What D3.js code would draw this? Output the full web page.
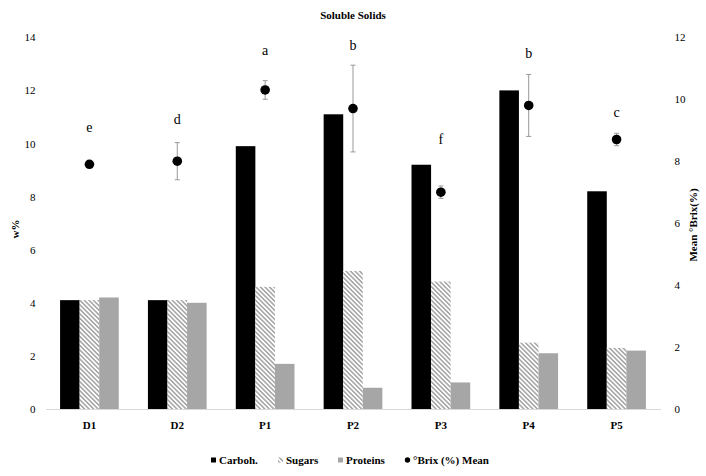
<!DOCTYPE html>
<html>
<head>
<meta charset="utf-8">
<script src="https://cdn.jsdelivr.net/npm/d3@7"></script>
<style>
  html, body { margin: 0; padding: 0; background: #fff; }
  svg { display: block; }
  text { font-family: "Liberation Serif", "Times New Roman", serif; fill: #000; }
</style>
</head>
<body>
<svg id="chart" width="706" height="476"></svg>
<script>
// ---- data ----
const categories = ["D1", "D2", "P1", "P2", "P3", "P4", "P5"];
const seriesNames = ["Carboh.", "Sugars", "Proteins"];
const carboh   = [4.1, 4.1, 9.9, 11.1, 9.2, 12.0, 8.2];
const sugars   = [4.1, 4.1, 4.6, 5.2, 4.8, 2.5, 2.3];
const proteins = [4.2, 4.0, 1.7, 0.8, 1.0, 2.1, 2.2];
const brixMean = [7.9, 8.0, 10.3, 9.7, 7.0, 9.8, 8.7];
const brixErr  = [0.05, 0.6, 0.3, 1.4, 0.2, 1.0, 0.2];
const letters  = ["e", "d", "a", "b", "f", "b", "c"];
const letterAt = [9.1, 9.35, 11.6, 11.75, 8.7, 11.5, 9.6]; // in °Brix units
const leftTicks  = [0, 2, 4, 6, 8, 10, 12, 14];
const rightTicks = [0, 2, 4, 6, 8, 10, 12];

// ---- layout ----
const svg = d3.select("#chart");
const plot = { left: 45.5, right: 660.5, top: 37.3, bottom: 409 };

const x = d3.scaleBand().domain(categories).range([plot.left, plot.right]);
const xs = d3.scaleBand().domain(seriesNames).range([0, x.bandwidth()]).paddingOuter(0.745);
const yL = d3.scaleLinear().domain([0, 14]).range([plot.bottom, plot.top]);
const yR = d3.scaleLinear().domain([0, 12]).range([plot.bottom, plot.top]);

// hatch pattern
const defs = svg.append("defs");
const pat = defs.append("pattern")
  .attr("id", "hatch").attr("patternUnits", "userSpaceOnUse")
  .attr("width", 3.2).attr("height", 3.2)
  .attr("patternTransform", "rotate(-45)");
pat.append("rect").attr("width", 3.2).attr("height", 3.2).attr("fill", "#fff");
pat.append("rect").attr("x", 0).attr("width", 1.6).attr("height", 3.2).attr("fill", "#a8a8a8");

const fills = { "Carboh.": "#000", "Sugars": "url(#hatch)", "Proteins": "#a6a6a6" };
const seriesData = { "Carboh.": carboh, "Sugars": sugars, "Proteins": proteins };

// title
svg.append("text").attr("x", 353).attr("y", 19).attr("text-anchor", "middle")
  .attr("font-size", 11).attr("font-weight", "bold").text("Soluble Solids");

// axes (labels only)
const gL = svg.append("g").attr("transform", `translate(${plot.left},0)`)
  .call(d3.axisLeft(yL).tickValues(leftTicks).tickSize(0).tickPadding(10));
const gR = svg.append("g").attr("transform", `translate(${plot.right},0)`)
  .call(d3.axisRight(yR).tickValues(rightTicks).tickSize(0).tickPadding(14));
[gL, gR].forEach(g => {
  g.select(".domain").remove();
  g.selectAll("text").attr("font-size", 11)
    .attr("font-family", "Liberation Serif, Times New Roman, serif").attr("fill", "#222");
});

// axis titles
svg.append("text").attr("transform", "translate(19,229) rotate(-90)")
  .attr("text-anchor", "middle").attr("font-size", 11).attr("font-weight", "bold").text("w%");
svg.append("text").attr("transform", "translate(697,225) rotate(-90)")
  .attr("text-anchor", "middle").attr("font-size", 11).attr("font-weight", "bold").text("Mean °Brix(%)");

// bars
const groups = svg.append("g").selectAll("g").data(categories).join("g")
  .attr("transform", d => `translate(${x(d)},0)`);
seriesNames.forEach(s => {
  groups.append("rect")
    .attr("x", xs(s))
    .attr("width", xs.bandwidth())
    .attr("y", (d, i) => yL(seriesData[s][i]))
    .attr("height", (d, i) => yL(0) - yL(seriesData[s][i]))
    .attr("fill", fills[s]);
});

// baseline
const xAxisG = svg.append("g").attr("transform", `translate(0,${plot.bottom})`)
  .call(d3.axisBottom(x).tickSize(0).tickPadding(12));
xAxisG.select(".domain").attr("stroke", "#d9d9d9").attr("stroke-width", 1.2);
xAxisG.selectAll("text").attr("font-size", 11).attr("font-weight", "bold")
  .attr("font-family", "Liberation Serif, Times New Roman, serif").attr("fill", "#000");

// error bars + dots
const cx = c => x(c) + x.bandwidth() / 2;
const eb = svg.append("g");
categories.forEach((c, i) => {
  const top = yR(brixMean[i] + brixErr[i]), bot = yR(brixMean[i] - brixErr[i]);
  eb.append("line").attr("x1", cx(c)).attr("x2", cx(c)).attr("y1", top).attr("y2", bot)
    .attr("stroke", "#999").attr("stroke-width", 1);
  [top, bot].forEach(yy => eb.append("line").attr("x1", cx(c) - 2.5).attr("x2", cx(c) + 2.5)
    .attr("y1", yy).attr("y2", yy).attr("stroke", "#999").attr("stroke-width", 1));
});
svg.append("g").selectAll("circle").data(categories).join("circle")
  .attr("cx", d => cx(d)).attr("cy", (d, i) => yR(brixMean[i])).attr("r", 4.8).attr("fill", "#000");

// significance letters
svg.append("g").selectAll("text").data(categories).join("text")
  .attr("x", d => cx(d)).attr("y", (d, i) => yR(letterAt[i]))
  .attr("dy", "0.35em").attr("text-anchor", "middle").attr("font-size", 14)
  .text((d, i) => letters[i]);

// legend
const legend = svg.append("g").attr("transform", "translate(0,460)");
const legItems = [
  { name: "Carboh.", x: 211, sym: "rect", fill: "#000" },
  { name: "Sugars", x: 278, sym: "rect", fill: "url(#hatch)" },
  { name: "Proteins", x: 338, sym: "rect", fill: "#a6a6a6" },
  { name: "°Brix (%) Mean", x: 405, sym: "circle", fill: "#000" }
];
legItems.forEach(it => {
  if (it.sym === "rect") {
    legend.append("rect").attr("x", it.x).attr("y", -2.5).attr("width", 5).attr("height", 5).attr("fill", it.fill);
  } else {
    legend.append("circle").attr("cx", it.x + 2.5).attr("cy", 0).attr("r", 2.7).attr("fill", it.fill);
  }
  legend.append("text").attr("x", it.x + 8).attr("y", 0).attr("dy", "0.35em")
    .attr("font-size", 11).attr("font-weight", "bold").text(it.name);
});
</script>
</body>
</html>
